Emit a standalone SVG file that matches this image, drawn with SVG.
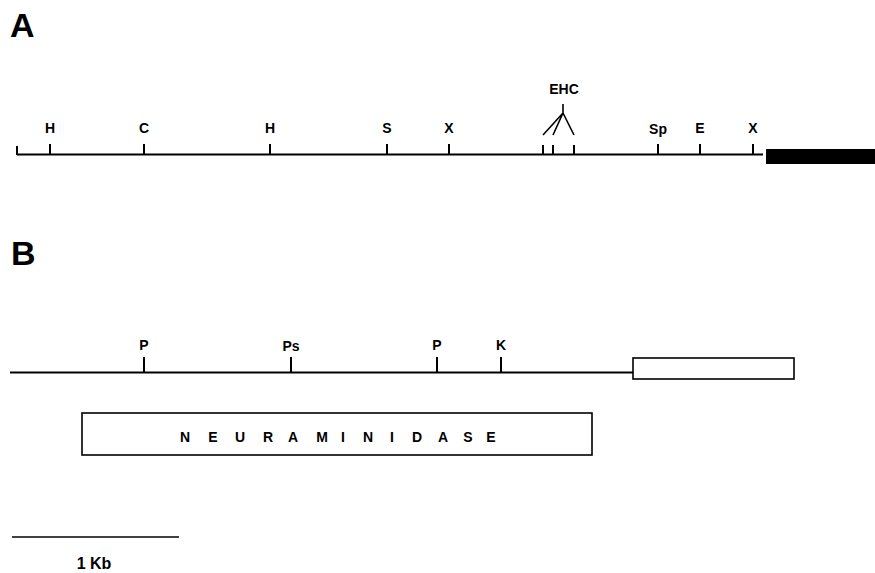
<svg xmlns="http://www.w3.org/2000/svg" width="875" height="573" viewBox="0 0 875 573">
  <style>
    .panel { font-family: "Liberation Sans", Arial, sans-serif; font-size: 34px; font-weight: bold; fill: #000; }
    .site { font-family: "Liberation Sans", Arial, sans-serif; font-size: 14px; font-weight: bold; fill: #000; text-anchor: middle; }
    .map { stroke: #000; stroke-width: 2.2; fill: none; }
    .tick { stroke: #000; stroke-width: 2; fill: none; }
    .box { stroke: #000; stroke-width: 1.6; fill: #fff; }
  </style>
  <rect width="875" height="573" fill="#fff"/>

  <!-- Panel A: restriction map -->
  <g id="panelA">
    <text class="panel" x="10" y="37">A</text>
    <g id="mapA-line">
      <line class="map" x1="17" y1="154.5" x2="763" y2="154.5"/>
      <line class="tick" x1="17" y1="146" x2="17" y2="155"/>
    </g>
    <g id="mapA-sites">
      <line class="tick" x1="50" y1="144" x2="50" y2="154"/>
      <text class="site" x="50" y="133">H</text>
      <line class="tick" x1="144" y1="144" x2="144" y2="154"/>
      <text class="site" x="144" y="133">C</text>
      <line class="tick" x1="270" y1="144" x2="270" y2="154"/>
      <text class="site" x="270" y="133">H</text>
      <line class="tick" x1="387" y1="144" x2="387" y2="154"/>
      <text class="site" x="387" y="133">S</text>
      <line class="tick" x1="449" y1="144" x2="449" y2="154"/>
      <text class="site" x="449" y="133">X</text>
      <line class="tick" x1="658" y1="144" x2="658" y2="154"/>
      <text class="site" x="658" y="134">Sp</text>
      <line class="tick" x1="700" y1="144" x2="700" y2="154"/>
      <text class="site" x="700" y="133">E</text>
      <line class="tick" x1="753" y1="144" x2="753" y2="154"/>
      <text class="site" x="753" y="133">X</text>
    </g>
    <g id="mapA-ehc">
      <line class="tick" x1="543" y1="145" x2="543" y2="154"/>
      <line class="tick" x1="553" y1="145" x2="553" y2="154"/>
      <line class="tick" x1="574" y1="145" x2="574" y2="154"/>
      <path d="M563 104 V113 M563 113 L543 135 M563 113 L553 135 M563 113 L574 135" stroke="#000" stroke-width="1.6" fill="none"/>
      <text class="site" x="564" y="94">EHC</text>
    </g>
    <rect id="mapA-block" x="766" y="149" width="109" height="15" fill="#000"/>
  </g>

  <!-- Panel B: neuraminidase region -->
  <g id="panelB">
    <text class="panel" x="11" y="265">B</text>
    <g id="mapB-line">
      <line class="map" x1="10" y1="372.5" x2="633" y2="372.5"/>
    </g>
    <g id="mapB-sites">
      <line class="tick" x1="144" y1="357" x2="144" y2="372"/>
      <text class="site" x="144" y="350">P</text>
      <line class="tick" x1="291" y1="357" x2="291" y2="372"/>
      <text class="site" x="291" y="351">Ps</text>
      <line class="tick" x1="437" y1="357" x2="437" y2="372"/>
      <text class="site" x="437" y="350">P</text>
      <line class="tick" x1="501" y1="357" x2="501" y2="372"/>
      <text class="site" x="501" y="350">K</text>
    </g>
    <rect id="mapB-openbox" class="box" x="633" y="358" width="161" height="21"/>
    <g id="neuraminidase">
      <rect class="box" x="82" y="413" width="510" height="42"/>
      <text class="site" y="442" x="185 213 240 268 293 322 343 368 392 417 443 468 491">NEURAMINIDASE</text>
    </g>
  </g>

  <!-- Scale bar -->
  <g id="scale">
    <line x1="12" y1="537" x2="179" y2="537" stroke="#000" stroke-width="1.5"/>
    <text x="94" y="569" font-family="Liberation Sans, Arial, sans-serif" font-size="16" font-weight="bold" text-anchor="middle">1 Kb</text>
  </g>
</svg>
